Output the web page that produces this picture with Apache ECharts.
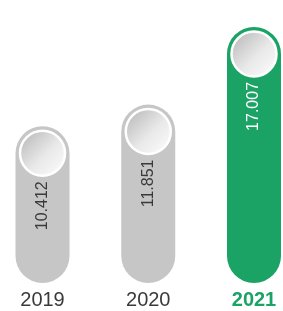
<!DOCTYPE html>
<html>
<head>
<meta charset="utf-8">
<script src="https://cdn.jsdelivr.net/npm/echarts@6/dist/echarts.min.js"></script>
<style>
  html, body { margin: 0; padding: 0; background: #fff; }
  #plot { width: 283px; height: 311px; }
</style>
</head>
<body>
<div id="plot"></div>
<script>
"use strict";

// Data.
var years = ['2019', '2020', '2021'];
var values = [10.412, 11.851, 17.007];
var valueLabels = ['10.412', '11.851', '17.007'];

var grey = '#c6c6c6';
var green = '#1ba366';
var textDark = '#3a3a3a';

var barColors = [grey, grey, green];
var labelColors = [textDark, textDark, '#ffffff'];

var chart = echarts.init(document.getElementById('plot'));

// Bars as rounded pills, the value label written upward under the knob.
var barData = values.map(function (v, i) {
  return {
    value: v,
    itemStyle: { color: barColors[i] },
    label: { color: labelColors[i] }
  };
});

// The round knob sits at the top of every bar.
var knobData = values.map(function (v, i) {
  return [years[i], v];
});

chart.setOption({
  backgroundColor: '#fff',
  animation: false,
  grid: { left: 42.5, right: 29, top: 12, bottom: 28 },
  xAxis: {
    type: 'category',
    data: years,
    boundaryGap: false,
    axisLine: { show: false },
    axisTick: { show: false },
    axisLabel: {
      margin: 7,
      fontSize: 20,
      fontFamily: 'Liberation Sans, Arial, sans-serif',
      color: textDark,
      formatter: function (v) {
        return v === '2021' ? '{hl|' + v + '}' : v;
      },
      rich: {
        hl: {
          fontSize: 20,
          fontWeight: 'bold',
          fontFamily: 'Liberation Sans, Arial, sans-serif',
          color: green
        }
      }
    }
  },
  yAxis: {
    type: 'value',
    min: 0,
    max: 18,
    show: false,
    splitLine: { show: false }
  },
  series: [
    {
      type: 'bar',
      data: barData,
      barWidth: 54,
      clip: false,
      itemStyle: { borderRadius: 27 },
      label: {
        show: true,
        position: 'insideTop',
        distance: 55,
        rotate: 90,
        align: 'right',
        verticalAlign: 'middle',
        fontSize: 16,
        fontFamily: 'Liberation Sans, Arial, sans-serif',
        formatter: function (p) { return valueLabels[p.dataIndex]; }
      },
      z: 2
    },
    {
      type: 'scatter',
      data: knobData,
      clip: false,
      symbol: 'circle',
      symbolSize: 45,
      symbolOffset: [0, 27],
      itemStyle: {
        color: new echarts.graphic.LinearGradient(0, 0, 1, 1, [
          { offset: 0, color: '#b2b2b2' },
          { offset: 0.55, color: '#e9e9e9' },
          { offset: 1, color: '#ffffff' }
        ]),
        borderColor: '#ffffff',
        borderWidth: 2.5,
        opacity: 1
      },
      emphasis: { disabled: true },
      z: 3
    }
  ]
});
</script>
</body>
</html>
